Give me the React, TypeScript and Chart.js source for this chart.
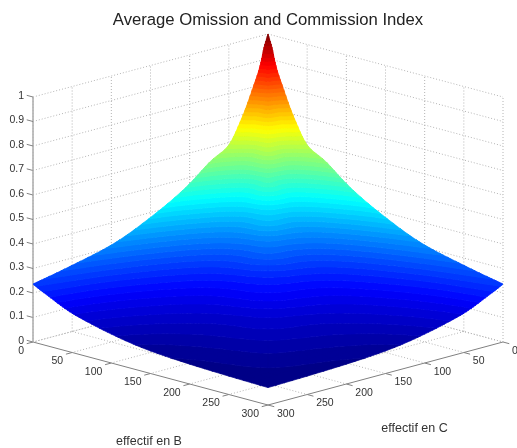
import React, { useEffect, useRef } from "react";
import { Chart, registerables } from "chart.js";

Chart.register(...registerables);

const titleText = "Average Omission and Commission Index";
const labelB = "effectif en B";
const labelC = "effectif en C";

const zTicks = [0, 0.1, 0.2, 0.3, 0.4, 0.5, 0.6, 0.7, 0.8, 0.9, 1];
const bTicks = [0, 50, 100, 150, 200, 250, 300];
const cTicks = [0, 50, 100, 150, 200, 250, 300];

// sample positions of the surface, along both horizontal axes
const gridB = [0, 5, 10, 20, 35, 50, 75, 100, 150, 200, 250, 300];
const gridC = [0, 5, 10, 20, 35, 50, 75, 100, 150, 200, 250, 300];

// index, one row per value of gridB
const zB0 = [1, 0.95, 0.88, 0.79, 0.675, 0.59, 0.54, 0.475, 0.38, 0.31, 0.27, 0.237];
const zB5 = [0.95, 0.914, 0.853, 0.763, 0.659, 0.574, 0.498, 0.44, 0.356, 0.299, 0.258, 0.228];
const zB10 = [0.88, 0.853, 0.839, 0.734, 0.626, 0.544, 0.472, 0.418, 0.339, 0.285, 0.246, 0.219];
const zB20 = [0.79, 0.763, 0.734, 0.714, 0.587, 0.501, 0.431, 0.382, 0.31, 0.261, 0.226, 0.204];
const zB35 = [0.675, 0.659, 0.626, 0.587, 0.573, 0.473, 0.389, 0.34, 0.275, 0.232, 0.2, 0.18];
const zB50 = [0.59, 0.574, 0.544, 0.501, 0.473, 0.471, 0.365, 0.312, 0.248, 0.209, 0.18, 0.16];
const zB75 = [0.54, 0.498, 0.472, 0.431, 0.389, 0.365, 0.35, 0.286, 0.217, 0.18, 0.155, 0.137];
const zB100 = [0.475, 0.44, 0.418, 0.382, 0.34, 0.312, 0.286, 0.272, 0.198, 0.16, 0.137, 0.118];
const zB150 = [0.38, 0.356, 0.339, 0.31, 0.275, 0.248, 0.217, 0.198, 0.177, 0.137, 0.113, 0.092];
const zB200 = [0.31, 0.299, 0.285, 0.261, 0.232, 0.209, 0.18, 0.16, 0.137, 0.125, 0.101, 0.081];
const zB250 = [0.27, 0.258, 0.246, 0.226, 0.2, 0.18, 0.155, 0.137, 0.113, 0.101, 0.092, 0.075];
const zB300 = [0.237, 0.228, 0.219, 0.204, 0.18, 0.16, 0.137, 0.118, 0.092, 0.081, 0.075, 0.071];
const zRows = [zB0, zB5, zB10, zB20, zB35, zB50, zB75, zB100, zB150, zB200, zB250, zB300];

// view of the orthographic projection
const W = 517;
const H = 448;
const TITLE_SIZE = 16.7;
const TITLE_TOP = 10;
const TITLE_BAND = TITLE_TOP + TITLE_SIZE * 1.2;
const LEFT_PAD = 19;
const PX_PER_U = 235 / 300;
const PX_PER_V = 245;
const ORIGIN_X = 268;
const ORIGIN_Y = 279;
const FLOOR_SLOPE = 63 / 300 / PX_PER_V;
const LEVELS = 64;
const SUB = 5;

const project = (b: number, c: number, z: number) => ({
  x: b - c,
  y: z - (b + c) * FLOOR_SLOPE,
});

function jet(t: number): string {
  const ch = (v: number) => Math.round(255 * Math.max(0, Math.min(1, v)));
  const r = 1.5 - Math.abs(4 * t - 3);
  const g = 1.5 - Math.abs(4 * t - 2);
  const b = 1.5 - Math.abs(4 * t - 1);
  return `rgb(${ch(r)},${ch(g)},${ch(b)})`;
}

type P = { x: number; y: number; z: number };

function clip(poly: P[], level: number, keepAbove: boolean): P[] {
  const out: P[] = [];
  for (let i = 0; i < poly.length; i++) {
    const a = poly[i];
    const b = poly[(i + 1) % poly.length];
    const ain = keepAbove ? a.z >= level : a.z <= level;
    const bin = keepAbove ? b.z >= level : b.z <= level;
    if (ain) out.push(a);
    if (ain !== bin) {
      const t = (level - a.z) / (b.z - a.z);
      out.push({ x: a.x + (b.x - a.x) * t, y: a.y + (b.y - a.y) * t, z: level });
    }
  }
  return out;
}

// display smoothing of the sampled surface (as a shaded surface does), on a warped axis
const warp = (v: number) => Math.log(1 + v / 20);
const unwarp = (t: number) => 20 * (Math.exp(t) - 1);

function smoothPositions(xs: number[]): number[] {
  const out: number[] = [];
  for (let i = 0; i < xs.length - 1; i++) {
    const a = warp(xs[i]);
    const b = warp(xs[i + 1]);
    for (let s = 0; s < SUB; s++) out.push(unwarp(a + ((b - a) * s) / SUB));
  }
  out.push(xs[xs.length - 1]);
  return out;
}

function smoothLine(xs: number[], ys: number[]): number[] {
  const ts = xs.map(warp);
  const n = xs.length;
  const slope = (i: number) => (ys[i + 1] - ys[i]) / (ts[i + 1] - ts[i]);
  const m = ys.map((_, i) => (i === 0 ? slope(0) : i === n - 1 ? slope(n - 2) : (slope(i - 1) + slope(i)) / 2));
  const out: number[] = [];
  for (let i = 0; i < n - 1; i++) {
    const h = ts[i + 1] - ts[i];
    for (let s = 0; s < SUB; s++) {
      const u = s / SUB;
      const u2 = u * u;
      const u3 = u2 * u;
      out.push(
        (2 * u3 - 3 * u2 + 1) * ys[i] + (u3 - 2 * u2 + u) * h * m[i] + (-2 * u3 + 3 * u2) * ys[i + 1] + (u3 - u2) * h * m[i + 1]
      );
    }
  }
  out.push(ys[n - 1]);
  return out;
}

function smoothSurface(): { bs: number[]; cs: number[]; zs: number[][] } {
  const rows = zRows.map((r) => smoothLine(gridC, r.map(Math.log)));
  const cs = smoothPositions(gridC);
  const bs = smoothPositions(gridB);
  const cols = cs.map((_, j) => smoothLine(gridB, rows.map((r) => r[j])));
  const zs = bs.map((_, i) => cs.map((_, j) => Math.exp(cols[j][i])));
  return { bs, cs, zs };
}

const surfacePoints: { x: number; y: number; z: number }[] = [];
zRows.forEach((row, i) =>
  row.forEach((z, j) => {
    surfacePoints.push({ ...project(gridB[i], gridC[j], z), z });
  })
);

function polyline(pairs: [number, number, number][][]) {
  const out: { x: number; y: number }[] = [];
  pairs.forEach((seg) => {
    seg.forEach(([b, c, z]) => out.push(project(b, c, z)));
    out.push({ x: NaN, y: NaN });
  });
  return out;
}

const gridSegs: [number, number, number][][] = [];
cTicks.forEach((c) => {
  gridSegs.push([[0, c, 0], [0, c, 1]]);
  if (c < 300) gridSegs.push([[0, c, 0], [300, c, 0]]);
});
bTicks.forEach((b) => {
  gridSegs.push([[b, 0, 0], [b, 0, 1]]);
  if (b < 300) gridSegs.push([[b, 0, 0], [b, 300, 0]]);
});
zTicks.forEach((z) => {
  gridSegs.push([[0, 300, z], [0, 0, z]]);
  gridSegs.push([[0, 0, z], [300, 0, z]]);
});

const axisSegs: [number, number, number][][] = [
  [[0, 300, 0], [0, 300, 1]],
  [[0, 300, 0], [300, 300, 0]],
  [[300, 0, 0], [300, 300, 0]],
];
zTicks.forEach((z) => axisSegs.push([[0, 300, z], [-8, 300, z]]));
bTicks.forEach((b) => axisSegs.push([[b, 300, 0], [b, 308, 0]]));
cTicks.forEach((c) => axisSegs.push([[300, c, 0], [308, c, 0]]));

const surfacePlugin = {
  id: "surface",
  afterDatasetsDraw(chart: any) {
    const ctx = chart.ctx as CanvasRenderingContext2D;
    const sx = chart.scales.x;
    const sy = chart.scales.y;
    const px = (b: number, c: number, z: number) => {
      const p = project(b, c, z);
      return [sx.getPixelForValue(p.x), sy.getPixelForValue(p.y)];
    };
    const { bs, cs, zs } = smoothSurface();
    const at = (i: number, j: number): P => {
      const [x, y] = px(bs[i], cs[j], zs[i][j]);
      return { x, y, z: zs[i][j] };
    };
    const all = surfacePoints.map((p) => p.z);
    const zMin = Math.min(...all);
    const zMax = Math.max(...all);
    const step = (zMax - zMin) / LEVELS;
    const bands: P[][][] = Array.from({ length: LEVELS }, () => []);
    for (let i = 0; i < bs.length - 1; i++) {
      for (let j = 0; j < cs.length - 1; j++) {
        const a = at(i, j);
        const b = at(i + 1, j);
        const c = at(i + 1, j + 1);
        const d = at(i, j + 1);
        [[a, b, c], [a, c, d]].forEach((tri) => {
          const lo = Math.min(tri[0].z, tri[1].z, tri[2].z);
          const hi = Math.max(tri[0].z, tri[1].z, tri[2].z);
          const k0 = Math.max(0, Math.floor((lo - zMin) / step));
          const k1 = Math.min(LEVELS - 1, Math.floor((hi - zMin) / step));
          for (let k = k0; k <= k1; k++) {
            let poly = clip(tri, zMin + k * step, true);
            if (poly.length) poly = clip(poly, zMin + (k + 1) * step, false);
            if (poly.length >= 3) bands[k].push(poly);
          }
        });
      }
    }
    ctx.save();
    ctx.lineWidth = 0.7;
    ctx.lineJoin = "round";
    bands.forEach((polys, k) => {
      const col = jet((k + 0.5) / LEVELS);
      ctx.fillStyle = col;
      ctx.strokeStyle = col;
      ctx.beginPath();
      polys.forEach((poly) => {
        poly.forEach((p, idx) => (idx ? ctx.lineTo(p.x, p.y) : ctx.moveTo(p.x, p.y)));
        ctx.closePath();
      });
      ctx.fill();
      ctx.stroke();
    });
    ctx.restore();

    // tick labels and axis names
    ctx.save();
    ctx.fillStyle = "#333";
    ctx.font = "10.5px 'Liberation Sans'";
    ctx.textBaseline = "middle";
    ctx.textAlign = "right";
    zTicks.forEach((z) => {
      const [x, y] = px(0, 300, z);
      ctx.fillText(String(z), x - 9, y - 1);
    });
    bTicks.forEach((b) => {
      const [x, y] = px(b, 300, 0);
      ctx.fillText(String(b), x - 9, y + 9);
    });
    ctx.textAlign = "left";
    cTicks.forEach((c) => {
      const [x, y] = px(300, c, 0);
      ctx.fillText(String(c), x + 9, y + 9);
    });
    ctx.font = "12.5px 'Liberation Sans'";
    ctx.textAlign = "center";
    ctx.fillText(labelB, 149, 442);
    ctx.fillText(labelC, 414.5, 429);
    ctx.restore();
  },
};

export default function App() {
  const ref = useRef<HTMLCanvasElement>(null);
  useEffect(() => {
    const chart = new Chart(ref.current as HTMLCanvasElement, {
      type: "scatter",
      plugins: [surfacePlugin],
      data: {
        datasets: [
          {
            label: "grid",
            data: polyline(gridSegs),
            showLine: true,
            borderColor: "#b4b4b4",
            borderWidth: 1,
            borderDash: [1, 2],
            pointRadius: 0,
            spanGaps: false,
          },
          {
            label: "axes",
            data: polyline(axisSegs),
            showLine: true,
            borderColor: "#808080",
            borderWidth: 1,
            pointRadius: 0,
            spanGaps: false,
          },
          {
            label: "index",
            data: surfacePoints,
            showLine: false,
            pointRadius: 0,
          },
        ],
      } as any,
      options: {
        animation: false,
        responsive: false,
        layout: { padding: { left: LEFT_PAD, right: 0, top: 0, bottom: 0 } },
        scales: {
          x: {
            type: "linear",
            display: false,
            min: (LEFT_PAD - ORIGIN_X) / PX_PER_U,
            max: (W - ORIGIN_X) / PX_PER_U,
          },
          y: {
            type: "linear",
            display: false,
            min: (ORIGIN_Y - H) / PX_PER_V,
            max: (ORIGIN_Y - TITLE_BAND) / PX_PER_V,
          },
        },
        plugins: {
          legend: { display: false },
          tooltip: { enabled: false },
          title: {
            display: true,
            text: titleText,
            color: "#222",
            font: { family: "'Liberation Sans'", size: TITLE_SIZE, weight: "normal" },
            padding: { top: TITLE_TOP, bottom: 0 },
          },
        },
      } as any,
    });
    return () => chart.destroy();
  }, []);
  return (
    <div style={{ position: "absolute", left: 0, top: 0, width: W, height: H }}>
      <canvas ref={ref} width={W} height={H} style={{ display: "block", filter: "blur(0.4px)" }} />
    </div>
  );
}
